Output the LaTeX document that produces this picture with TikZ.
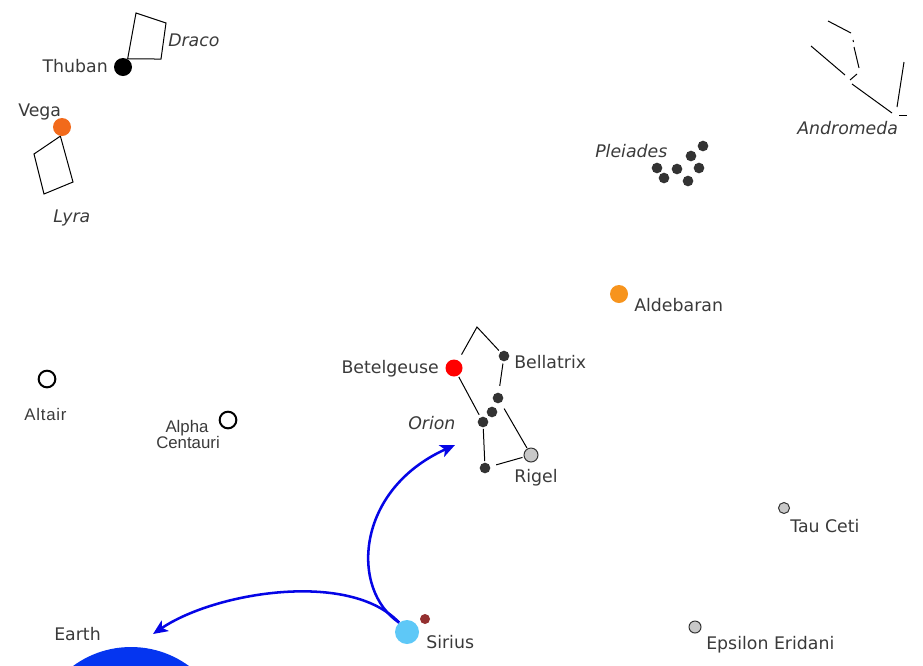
\documentclass[tikz,border=0pt]{standalone}
\usepackage{fontspec}
\setmainfont{DejaVu Sans}
\newfontfamily\arialfont{Liberation Sans}
\usetikzlibrary{arrows.meta}
\definecolor{txt}{HTML}{3A3A3A}
\definecolor{dotc}{HTML}{333333}
\definecolor{vegac}{HTML}{F26A1B}
\definecolor{aldc}{HTML}{F7941D}
\definecolor{betc}{HTML}{FF0000}
\definecolor{siriusc}{HTML}{5EC8F7}
\definecolor{siriusb}{HTML}{943030}
\definecolor{earthc}{HTML}{0535F0}
\definecolor{arrowc}{HTML}{0505E6}
\definecolor{grayc}{HTML}{C8C8C8}
\begin{document}
\begin{tikzpicture}[x=0.75pt,y=-0.75pt,
  lbl/.style={inner sep=0pt, text=txt, font=\fontsize{13}{15}\selectfont},
  ilbl/.style={inner sep=0pt, text=txt, font=\fontsize{13}{15}\selectfont\itshape},
  albl/.style={inner sep=0pt, text=txt, font=\arialfont\fontsize{12.6}{14}\selectfont},
  star/.style={circle, inner sep=0pt, minimum size=#1},
  dot/.style={circle, inner sep=0pt, minimum size=8pt, fill=dotc},
  ring/.style={circle, inner sep=0pt, minimum size=12.5pt, draw=black, line width=1.5pt},
  grey/.style={circle, inner sep=0pt, minimum size=#1, draw=dotc, fill=grayc, line width=0.75pt},
  cline/.style={line width=0.75pt, black},
  arr/.style={line width=1.9pt, arrowc, -{Stealth[length=11pt,width=9.5pt,inset=2.8pt]}}
]
\useasboundingbox (0,0) rectangle (923,665);
\clip (0,0) rectangle (923,665);

% ---- Draco / Thuban
\node[star=13.5pt, fill=black] (thuban) at (123,67) {};
\node[lbl, anchor=base east] (thubanl) at (108,72) {Thuban};
\coordinate (d1) at (136,13);
\coordinate (d2) at (166,23);
\coordinate (d3) at (161,59);
\draw[cline] (thuban.60) -- (d1) -- (d2) -- (d3) -- (thuban.60);
\node[ilbl, anchor=base west] (draco) at (168,46) {Draco};

% ---- Lyra / Vega
\node[star=13.5pt, fill=vegac] (vega) at (62,127) {};
\node[lbl, anchor=base west] (vegal) at (18,116) {Vega};
\coordinate (l1) at (34,154);
\coordinate (l2) at (44,194);
\coordinate (l3) at (73,182);
\draw[cline] (vega.-100) -- (l1) -- (l2) -- (l3) -- (vega.-100);
\node[ilbl, anchor=base west] (lyra) at (53,222) {Lyra};

% ---- Andromeda
\draw[cline] (828,21) -- (851,33);
\draw[cline] (853,40) -- (853.5,42);
\draw[cline] (854,47) -- (859,68);
\draw[cline] (857,74) -- (850,80);
\draw[cline] (811,46) -- (845,75);
\draw[cline] (852,84) -- (892,113);
\draw[cline] (904,62) -- (897,107);
\draw[cline] (899,115) -- (907,115);
\node[ilbl, anchor=base west] (andromeda) at (797,134) {Andromeda};

% ---- Pleiades
\node[dot] (p1) at (703,146) {};
\node[dot] (p2) at (691,156) {};
\node[dot] (p3) at (657,168) {};
\node[dot] (p4) at (677,169) {};
\node[dot] (p5) at (699,168) {};
\node[dot] (p6) at (664,178) {};
\node[dot] (p7) at (688,181) {};
\node[ilbl, anchor=base west] (pleiades) at (595,157) {Pleiades};

% ---- Aldebaran
\node[star=13.5pt, fill=aldc] (ald) at (619,294) {};
\node[lbl, anchor=base west] (aldl) at (634,311) {Aldebaran};

% ---- Orion
\node[star=12.75pt, fill=betc] (bet) at (454,368) {};
\node[lbl, anchor=base east] (betl) at (439,373) {Betelgeuse};
\node[dot] (bel) at (504,356) {};
\node[lbl, anchor=base west] (bell) at (514,368) {Bellatrix};
\node[dot] (mintaka) at (498,398) {};
\node[dot] (alnilam) at (492,412) {};
\node[dot] (alnitak) at (483,422) {};
\node[dot] (saiph) at (485,468) {};
\node[grey=10.5pt] (rigel) at (531,455) {};
\node[lbl, anchor=base west] (rigell) at (514,482) {Rigel};
\node[ilbl, anchor=base west] (orion) at (408,429) {Orion};
\coordinate (ohead) at (477,327);
\draw[cline, shorten <=5pt, shorten >=1.5pt] (bet) -- (ohead) -- (bel);
\draw[cline, shorten <=1pt, shorten >=2pt] (bet) -- (alnitak);
\draw[cline, shorten <=1.5pt, shorten >=5pt] (bel) -- (mintaka);
\draw[cline, shorten <=5pt, shorten >=0.5pt] (mintaka) -- (rigel);
\draw[cline, shorten <=1pt, shorten >=1pt] (alnitak) -- (saiph);
\draw[cline, shorten <=4.5pt, shorten >=1pt] (saiph) -- (rigel);

% ---- Altair, Alpha Centauri
\node[ring] (altair) at (47,379) {};
\node[albl, anchor=base west] (altairl) at (24,420) {A\kern0.6pt l\kern0.6pt t\kern0.6pt a\kern0.6pt i\kern0.6pt r};
\node[ring] (acen) at (228,420) {};
\node[albl, anchor=base] (acenl1) at (187,432) {Alpha};
\node[albl, anchor=base] (acenl2) at (188,448) {Centauri};

% ---- Tau Ceti, Epsilon Eridani
\node[grey=8.25pt] (tauceti) at (784,508) {};
\node[lbl, anchor=base west] (taucetil) at (790,532) {Tau Ceti};
\node[grey=9pt] (epseri) at (695,627) {};
\node[lbl, anchor=base west] (epseril) at (706,649) {Epsilon Eridani};

% ---- Sirius
\node[star=18pt, fill=siriusc] (sirius) at (407,632) {};
\node[star=7.5pt, fill=siriusb] (siriusB) at (425,619) {};
\node[lbl, anchor=base west] (siriusl) at (426,648) {Sirius};

% ---- Earth
\node[star=147pt, fill=earthc] (earth) at (131,745) {};
\node[lbl, anchor=base west] (earthl) at (54,640) {Earth};

% ---- arrows
\coordinate (oriontip) at (455,445);
\coordinate (earthtip) at (153,634);
\draw[arr] (sirius.130) .. controls (350,590) and (355,490) .. (oriontip);
\draw[arr] (sirius.130) .. controls (350,570) and (215,592) .. (earthtip);
\end{tikzpicture}
\end{document}
